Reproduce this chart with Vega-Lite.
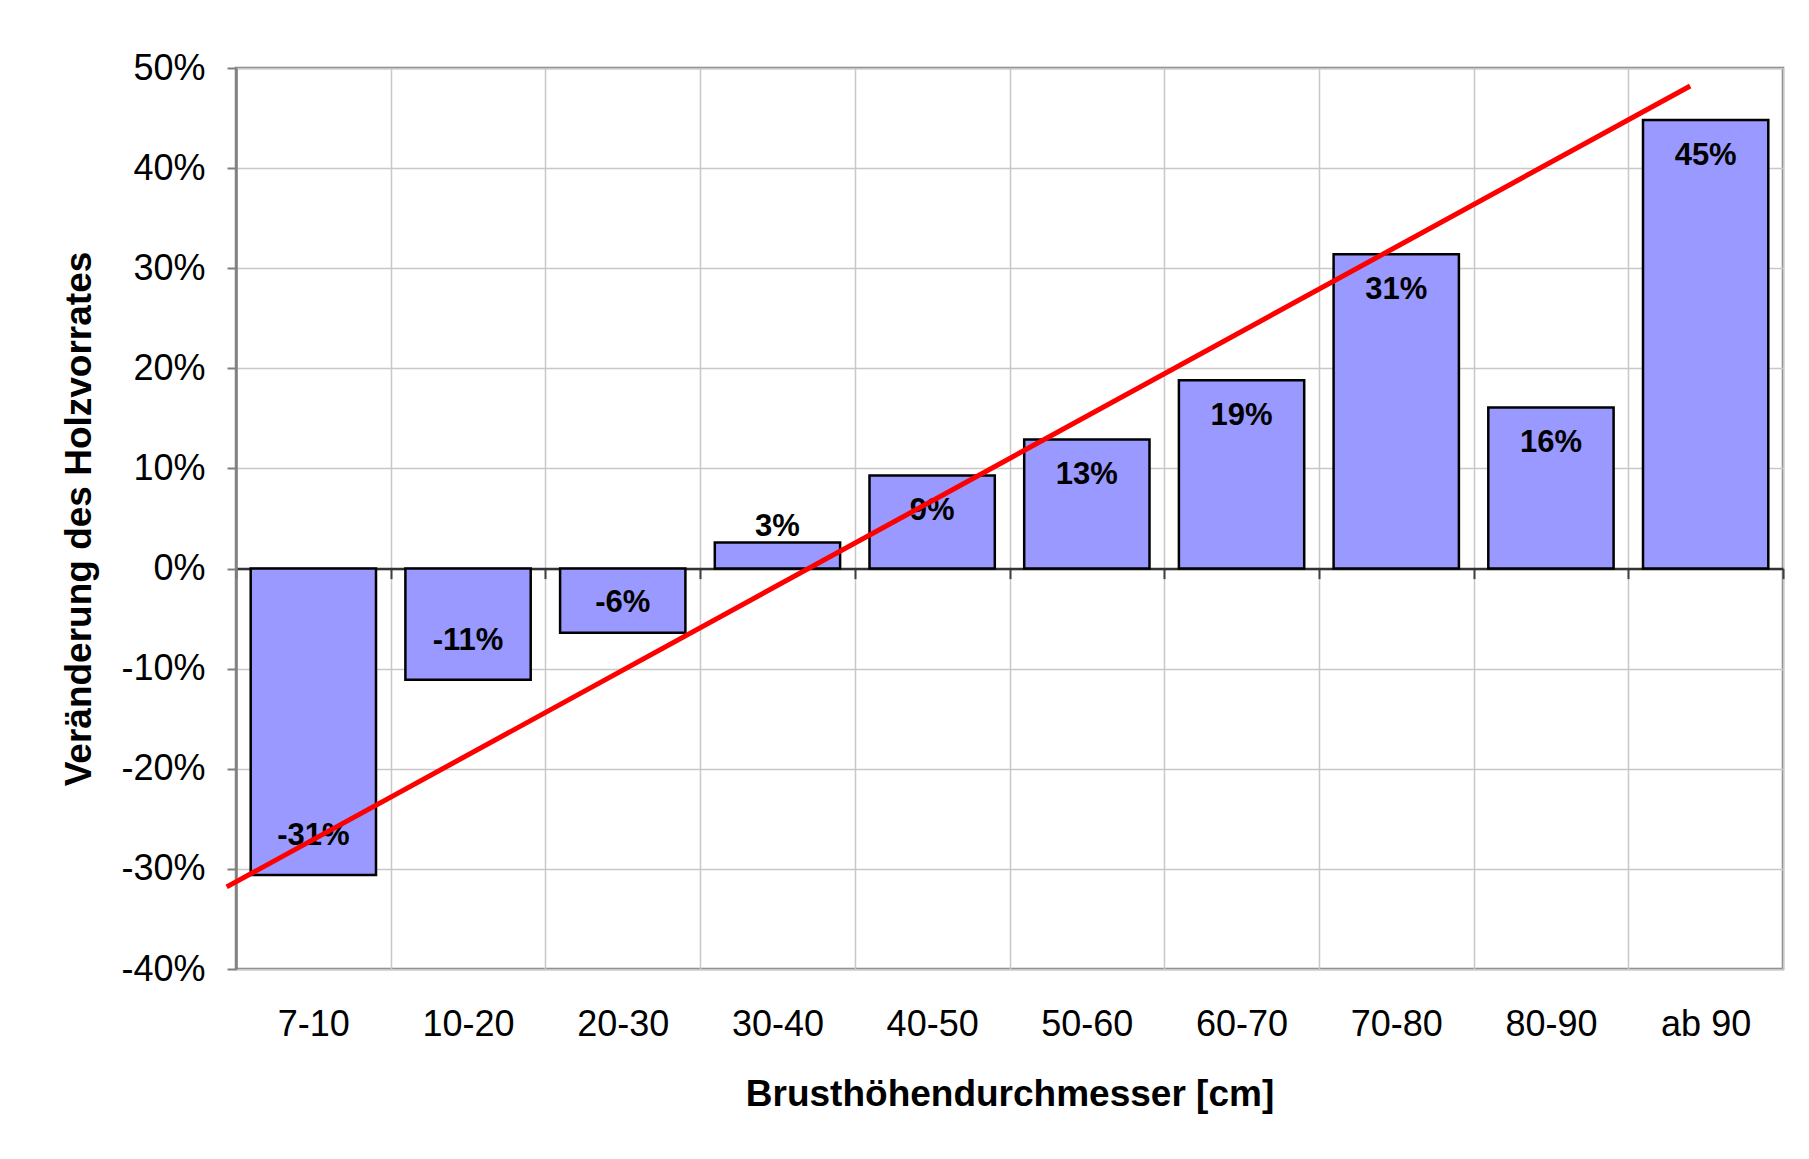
{
  "$schema": "https://vega.github.io/schema/vega-lite/v6.json",
  "width": 1547,
  "height": 901,
  "autosize": "none",
  "padding": {"left": 236, "top": 68, "right": 26, "bottom": 190},
  "background": "white",
  "config": {
    "font": "Liberation Sans",
    "locale": {"number": {"decimal": ".", "thousands": ",", "grouping": [3], "currency": ["", ""], "minus": "-"}},
    "view": {"stroke": "#808080", "strokeWidth": 2.5},
    "axis": {"labelFont": "Liberation Sans", "titleFont": "Liberation Sans", "labelColor": "#000000", "titleColor": "#000000"}
  },
  "datasets": {
    "bars": [
      {"cls": "7-10", "value": -0.306},
      {"cls": "10-20", "value": -0.111},
      {"cls": "20-30", "value": -0.064},
      {"cls": "30-40", "value": 0.026},
      {"cls": "40-50", "value": 0.093},
      {"cls": "50-60", "value": 0.129},
      {"cls": "60-70", "value": 0.188},
      {"cls": "70-80", "value": 0.314},
      {"cls": "80-90", "value": 0.161},
      {"cls": "ab 90", "value": 0.448}
    ],
    "trend": [
      {"pos": 0.44, "value": -0.318},
      {"pos": 9.9, "value": 0.482}
    ]
  },
  "resolve": {"scale": {"x": "independent"}, "axis": {"x": "independent"}},
  "encoding": {
    "y": {
      "field": "value",
      "type": "quantitative",
      "scale": {"domain": [-0.4, 0.5], "nice": false, "zero": false},
      "axis": {
        "title": "Veränderung des Holzvorrates",
        "format": ".0%",
        "values": [-0.4, -0.3, -0.2, -0.1, 0, 0.1, 0.2, 0.3, 0.4, 0.5],
        "labelFontSize": 36,
        "labelPadding": 22,
        "tickSize": 9,
        "tickColor": "#808080",
        "tickWidth": 2,
        "domainColor": "#808080",
        "domainWidth": 2.5,
        "gridColor": "#c8c8c8",
        "gridWidth": 1.5,
        "titleFontSize": 37,
        "titleFontWeight": "bold",
        "titlePadding": 22
      }
    }
  },
  "layer": [
    {
      "data": {"name": "bars"},
      "mark": {"type": "bar", "fill": "#9999ff", "stroke": "#000000", "strokeWidth": 2.5},
      "encoding": {
        "x": {
          "field": "cls", "type": "nominal", "sort": null,
          "scale": {"domain": ["7-10", "10-20", "20-30", "30-40", "40-50", "50-60", "60-70", "70-80", "80-90", "ab 90"], "paddingInner": 0.19, "paddingOuter": 0.095},
          "axis": null
        }
      }
    },
    {
      "data": {"name": "bars"},
      "transform": [{"filter": "datum.value >= 0.05"}],
      "mark": {"type": "text", "fontSize": 31, "fontWeight": "bold", "baseline": "middle", "dy": 36, "color": "#000000"},
      "encoding": {
        "x": {
          "field": "cls", "type": "nominal", "sort": null,
          "scale": {"domain": ["7-10", "10-20", "20-30", "30-40", "40-50", "50-60", "60-70", "70-80", "80-90", "ab 90"], "paddingInner": 0, "paddingOuter": 0},
          "axis": {
            "orient": "bottom",
            "title": "Brusthöhendurchmesser [cm]",
            "titleFontSize": 37,
            "titleFontWeight": "bold",
            "titlePadding": 34,
            "labelFontSize": 36,
            "labelPadding": 38,
            "labelAngle": 0,
            "ticks": false,
            "domain": false,
            "grid": true,
            "tickBand": "extent",
            "gridColor": "#c8c8c8",
            "gridWidth": 1.5
          }
        },
        "text": {"field": "value", "type": "quantitative", "format": ".0%"}
      }
    },
    {
      "data": {"name": "bars"},
      "transform": [{"filter": "datum.value > 0 && datum.value < 0.05"}],
      "mark": {"type": "text", "fontSize": 31, "fontWeight": "bold", "baseline": "middle", "dy": -16, "color": "#000000"},
      "encoding": {
        "x": {
          "field": "cls", "type": "nominal", "sort": null,
          "scale": {"domain": ["7-10", "10-20", "20-30", "30-40", "40-50", "50-60", "60-70", "70-80", "80-90", "ab 90"], "paddingInner": 0, "paddingOuter": 0},
          "axis": {
            "orient": "bottom",
            "offset": -400.4,
            "labels": false,
            "title": null,
            "grid": false,
            "ticks": true,
            "tickBand": "extent",
            "tickSize": 10,
            "tickColor": "#404040",
            "tickWidth": 2,
            "domain": true,
            "domainColor": "#333333",
            "domainWidth": 2.5
          }
        },
        "text": {"field": "value", "type": "quantitative", "format": ".0%"}
      }
    },
    {
      "data": {"name": "bars"},
      "transform": [{"filter": "datum.value <= -0.1"}],
      "mark": {"type": "text", "fontSize": 31, "fontWeight": "bold", "baseline": "middle", "dy": -39, "color": "#000000"},
      "encoding": {
        "x": {
          "field": "cls", "type": "nominal", "sort": null,
          "scale": {"domain": ["7-10", "10-20", "20-30", "30-40", "40-50", "50-60", "60-70", "70-80", "80-90", "ab 90"], "paddingInner": 0, "paddingOuter": 0},
          "axis": null
        },
        "text": {"field": "value", "type": "quantitative", "format": ".0%"}
      }
    },
    {
      "data": {"name": "bars"},
      "transform": [{"filter": "datum.value > -0.1 && datum.value < 0"}],
      "mark": {"type": "text", "fontSize": 31, "fontWeight": "bold", "baseline": "middle", "dy": -30, "color": "#000000"},
      "encoding": {
        "x": {
          "field": "cls", "type": "nominal", "sort": null,
          "scale": {"domain": ["7-10", "10-20", "20-30", "30-40", "40-50", "50-60", "60-70", "70-80", "80-90", "ab 90"], "paddingInner": 0, "paddingOuter": 0},
          "axis": null
        },
        "text": {"field": "value", "type": "quantitative", "format": ".0%"}
      }
    },
    {
      "data": {"name": "trend"},
      "mark": {"type": "line", "color": "#ff0000", "strokeWidth": 5},
      "encoding": {
        "x": {"field": "pos", "type": "quantitative", "scale": {"domain": [0.5, 10.5], "nice": false, "zero": false}, "axis": null}
      }
    }
  ]
}
